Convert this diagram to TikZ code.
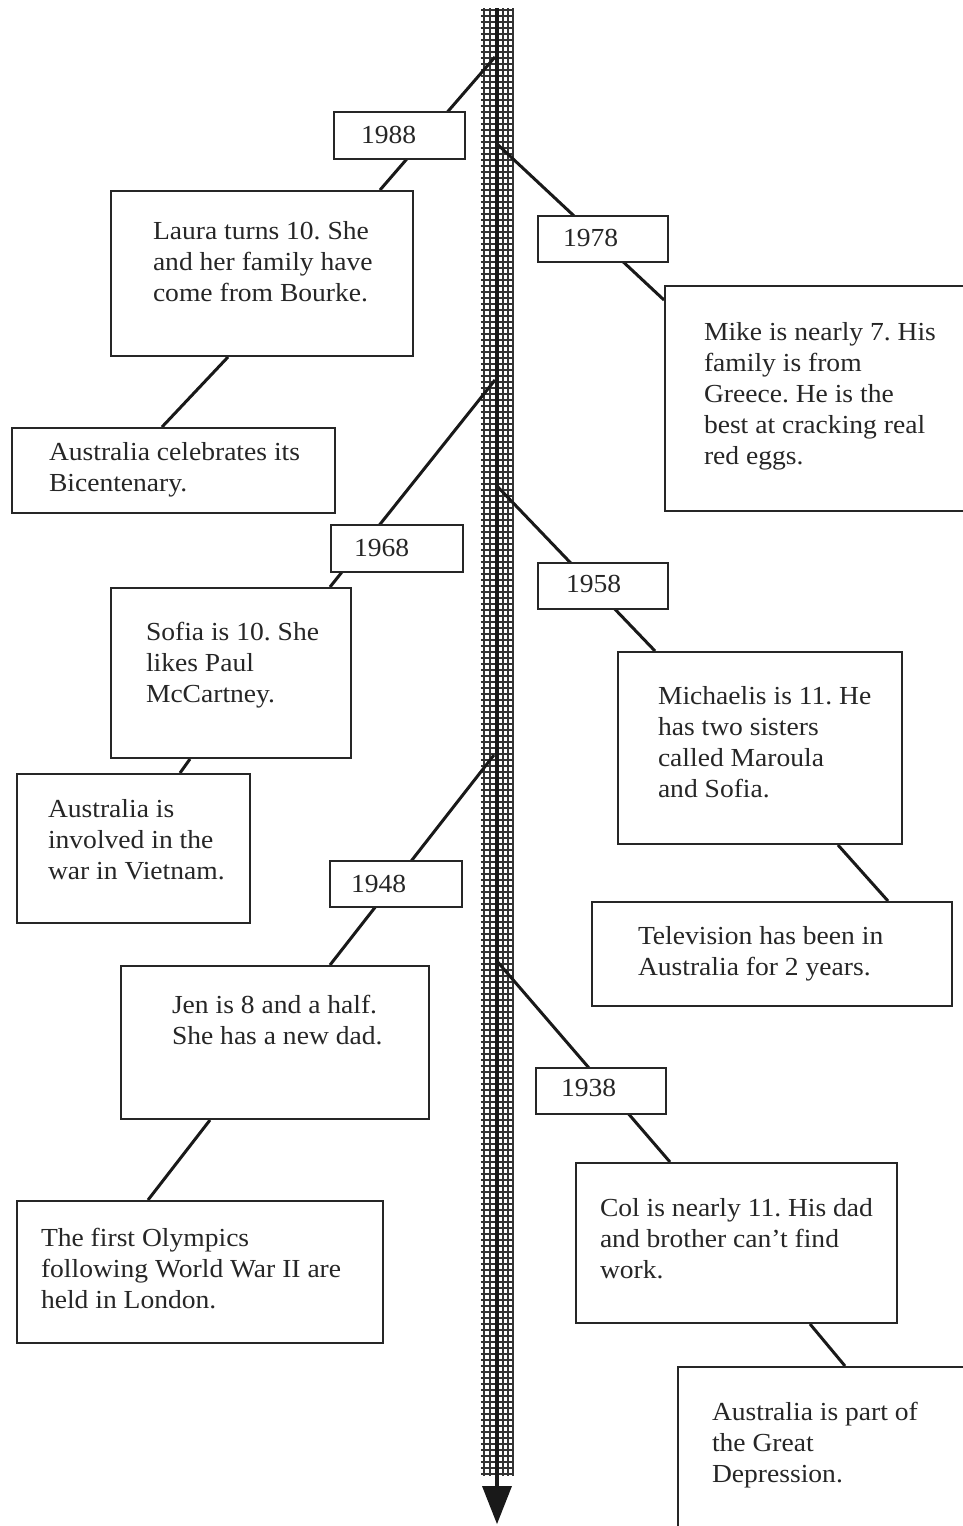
\documentclass[tikz,border=0pt]{standalone}
\usepackage{fontspec}
\setmainfont{Liberation Serif}[FakeStretch=1.06]
\usetikzlibrary{calc,backgrounds}
\frenchspacing
\newcommand\tb[5]{\parbox[t][#2pt][t]{#1pt}{\frenchspacing\leftskip=#3pt\rule{0pt}{#4pt}#5}}
\tikzset{
  tbox/.style={draw=black!85, line width=2pt, fill=white, inner sep=0pt, anchor=north west,
    font=\fontsize{26}{31}\selectfont, text=black!85},
  conn/.style={draw=black!90, line width=3pt},
  rail/.style={draw=black!80, line width=1.6pt},
  rung/.style={draw=black!80, line width=1.5pt}
}
\begin{document}
\begin{tikzpicture}[x=1pt,y=-1pt]
\useasboundingbox (0,0) rectangle (962,1526);
% boxes
\node[tbox] (y1988) at (333,111) {\tb{131}{47}{27}{31}{1988}};
\node[tbox] (laura) at (110,190) {\tb{302}{165}{42}{48}{Laura turns 10. She\\and her family have\\come from Bourke.}};
\node[tbox] (bicent) at (11,427) {\tb{323}{85}{37}{32}{Australia celebrates its\\Bicentenary.}};
\node[tbox] (y1978) at (537,215) {\tb{130}{46}{25}{30}{1978}};
\node[tbox] (mike) at (664,285) {\tb{320}{225}{39}{54}{Mike is nearly 7. His\\family is from\\Greece. He is the\\best at cracking real\\red eggs.}};
\node[tbox] (y1968) at (330,524) {\tb{132}{47}{23}{31}{1968}};
\node[tbox] (sofia) at (110,587) {\tb{240}{170}{35}{52}{Sofia is 10. She\\likes Paul\\McCartney.}};
\node[tbox] (vietnam) at (16,773) {\tb{233}{149}{31}{43}{Australia is\\involved in the\\war in Vietnam.}};
\node[tbox] (y1958) at (537,562) {\tb{130}{46}{28}{29}{1958}};
\node[tbox] (michaelis) at (617,651) {\tb{284}{192}{40}{52}{Michaelis is 11. He\\has two sisters\\called Maroula\\and Sofia.}};
\node[tbox] (tv) at (591,901) {\tb{360}{104}{46}{42}{Television has been in\\Australia for 2 years.}};
\node[tbox] (y1948) at (329,860) {\tb{132}{46}{21}{31}{1948}};
\node[tbox] (jen) at (120,965) {\tb{308}{153}{51}{47}{Jen is 8 and a half.\\She has a new dad.}};
\node[tbox] (olympics) at (16,1200) {\tb{366}{142}{24}{45}{The first Olympics\\following World War II are\\held in London.}};
\node[tbox] (y1938) at (535,1067) {\tb{130}{46}{25}{28}{1938}};
\node[tbox] (col) at (575,1162) {\tb{321}{160}{24}{53}{Col is nearly 11. His dad\\and brother can’t find\\work.}};
\node[tbox] (depression) at (677,1366) {\tb{320}{200}{34}{53}{Australia is part of\\the Great\\Depression.}};
% axis attachment points
\coordinate (a1988) at (495,57);
\coordinate (a1978) at (496,143);
\coordinate (a1968) at (495,380);
\coordinate (a1958) at (496,485);
\coordinate (a1948) at (494,755);
\coordinate (a1938) at (496,960);
\coordinate (top) at (497,8);
\coordinate (tip) at (497,1524);
\begin{scope}[on background layer]
  % time axis
  \foreach \y in {10,16,...,1474} \draw[rung] (481,\y) -- (514,\y);
  \foreach \x in {484,490,503,508,513} \draw[rail] (\x,8) -- (\x,1476);
  \draw[line width=3.5pt, draw=black!90] (top) -- (497,1490);
  \fill[black!90] (482,1486) -- (512,1486) -- (tip) -- cycle;
  % connectors
  \draw[conn] (a1988) -- ($(laura.north west)+(270,0)$);
  \draw[conn] ($(laura.south west)+(118,0)$) -- ($(bicent.north west)+(151,0)$);
  \draw[conn] (a1978) -- ($(mike.north west)+(0,15)$);
  \draw[conn] (a1968) -- ($(sofia.north west)+(220,0)$);
  \draw[conn] ($(sofia.south west)+(80,0)$) -- ($(vietnam.north west)+(164,0)$);
  \draw[conn] (a1958) -- ($(michaelis.north west)+(38,0)$);
  \draw[conn] ($(michaelis.south west)+(221,0)$) -- ($(tv.north west)+(297,0)$);
  \draw[conn] (a1948) -- ($(jen.north west)+(210,0)$);
  \draw[conn] ($(jen.south west)+(90,0)$) -- ($(olympics.north west)+(132,0)$);
  \draw[conn] (a1938) -- ($(col.north west)+(95,0)$);
  \draw[conn] ($(col.south west)+(235,0)$) -- ($(depression.north west)+(168,0)$);
\end{scope}
\end{tikzpicture}
\end{document}
